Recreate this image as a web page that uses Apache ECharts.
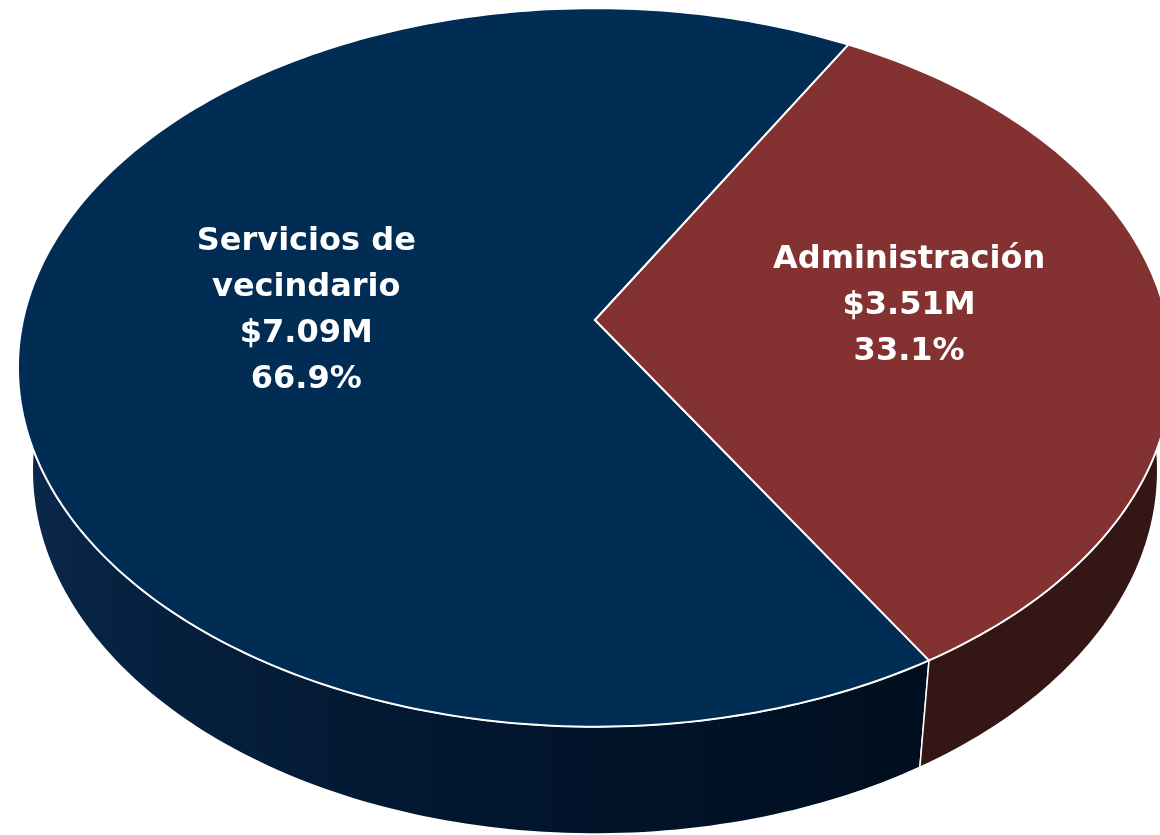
<!DOCTYPE html>
<html>
<head>
<meta charset="utf-8">
<script src="https://cdn.jsdelivr.net/npm/echarts@6/dist/echarts.min.js"></script>
<style>
  html, body { margin: 0; padding: 0; background: #fff; }
  #chart { width: 1160px; height: 835px; }
</style>
</head>
<body>
<div id="chart"></div>
<script>
// datos del grafico
const categories = ['Servicios de vecindario', 'Administración'];
const labelNames = ['Servicios de\nvecindario', 'Administración'];
const amounts = [7.09, 3.51];        // millones de dolares
const amountLabels = ['$7.09M', '$3.51M'];
const shares = ['66.9%', '33.1%'];
const topColors = ['#012c54', '#833231'];

// geometria del pastel 3d (perspectiva)
const CX = 595, CY = 320, R = 572, S = 353, M = 0.132;
const DEPTH = 106, FAR = 0.025;
const START = 58.8;   // grados, sentido horario en pantalla
const LABEL_K = 0.527;
const LABEL_DX = 13, LABEL_DY = -12;

const total = amounts.reduce((a, b) => a + b, 0);

function proj(phi, bottom, k) {
  k = k == null ? 1 : k;
  const u = Math.cos(phi) * k, v = Math.sin(phi) * k;
  const w = 1 - M * v + (bottom ? FAR : 0);
  return [CX + R * u / w, CY + (S * v + (bottom ? DEPTH : 0)) / w];
}

function sliceDeg(i) {
  let acc = 0;
  for (let j = 0; j < i; j++) acc += amounts[j];
  let a0 = START + acc / total * 360;
  let a1 = a0 + amounts[i] / total * 360;
  if (a0 >= 270) { a0 -= 360; a1 -= 360; }
  return [a0, a1];
}

function arc(d0, d1, bottom) {
  const pts = [];
  const n = Math.max(2, Math.ceil(Math.abs(d1 - d0)));
  for (let s = 0; s <= n; s++) {
    const d = d0 + (d1 - d0) * s / n;
    pts.push(proj(d * Math.PI / 180, bottom));
  }
  return pts;
}

function sideFill(i) {
  if (i === 0) {
    return new echarts.graphic.LinearGradient(18, 0, 925, 0, [
      { offset: 0, color: '#0b284b' },
      { offset: 0.15, color: '#05203e' },
      { offset: 0.5, color: '#02162f' },
      { offset: 1, color: '#000f1f' }
    ], true);
  }
  return '#341614';
}

function renderSide(params, api) {
  const i = params.dataIndex;
  const [a0, a1] = sliceDeg(i);
  const lo = Math.max(a0, -10), hi = Math.min(a1, 190);
  if (hi <= lo) return;
  const pts = arc(lo, hi, false).concat(arc(hi, lo, true));
  return {
    type: 'polygon',
    shape: { points: pts },
    style: { fill: sideFill(i), stroke: '#ffffff', lineWidth: 1.5 }
  };
}

function renderTop(params, api) {
  const i = params.dataIndex;
  const [a0, a1] = sliceDeg(i);
  const pts = [[CX, CY]].concat(arc(a0, a1, false));
  const mid = (a0 + a1) / 2 * Math.PI / 180;
  const lp = proj(mid, false, LABEL_K);
  return {
    type: 'group',
    children: [
      {
        type: 'polygon',
        shape: { points: pts },
        style: { fill: topColors[i], stroke: '#ffffff', lineWidth: 2 }
      },
      {
        type: 'text',
        x: lp[0] + LABEL_DX,
        y: lp[1] + LABEL_DY,
        z2: 10,
        style: {
          text: labelNames[i] + '\n' + amountLabels[i] + '\n' + shares[i],
          fill: '#ffffff',
          fontFamily: 'DejaVu Sans',
          fontWeight: 'bold',
          fontSize: 32,
          lineHeight: 46,
          align: 'center',
          verticalAlign: 'middle'
        }
      }
    ]
  };
}

const chart = echarts.init(document.getElementById('chart'));
chart.setOption({
  animation: false,
  backgroundColor: '#ffffff',
  series: [
    {
      type: 'custom',
      name: 'lado',
      coordinateSystem: 'none',
      z: 1,
      renderItem: renderSide,
      data: amounts.map((v, i) => ({ name: categories[i], value: v }))
    },
    {
      type: 'custom',
      name: 'cara',
      coordinateSystem: 'none',
      z: 2,
      renderItem: renderTop,
      data: amounts.map((v, i) => ({ name: categories[i], value: v }))
    }
  ]
});
</script>
</body>
</html>
